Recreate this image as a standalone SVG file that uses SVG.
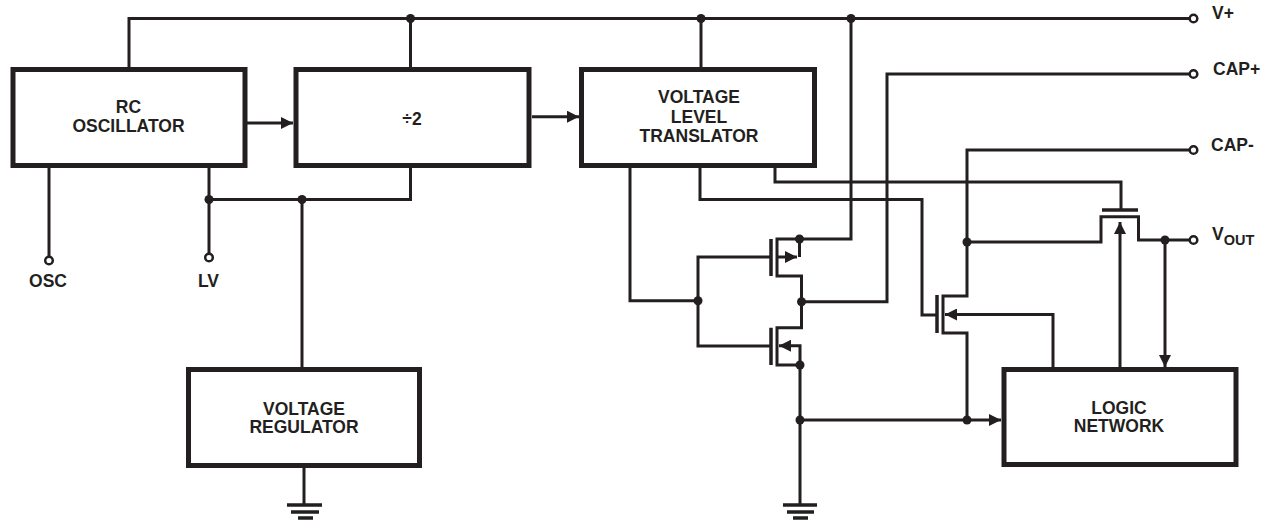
<svg xmlns="http://www.w3.org/2000/svg" width="1268" height="520" viewBox="0 0 1268 520">
<style>
.w{fill:none;stroke:#231f20;stroke-width:3;stroke-linejoin:miter}
.box{fill:#fff;stroke:#231f20;stroke-width:5}
.bar{fill:none;stroke:#231f20;stroke-width:3.5}
.dot{fill:#231f20}
.term{fill:#fff;stroke:#231f20;stroke-width:2.5}
.t{font-family:"Liberation Sans",Arial,Helvetica,sans-serif;font-weight:bold;font-size:17.5px;fill:#231f20}
.c{text-anchor:middle}
</style>
<defs>
<marker id="ah" markerUnits="userSpaceOnUse" markerWidth="12" markerHeight="12" refX="12" refY="6" orient="auto">
<path d="M0,0 L12,6 L0,12 z" fill="#231f20"/>
</marker>
</defs>

<g id="connectors">
<!-- V+ bus -->
<path class="w" d="M129,67 V18.5 H1190"/>
<path class="w" d="M410.5,18.5 V67"/>
<path class="w" d="M701,18.5 V67"/>
<!-- arrows between blocks -->
<path class="w" d="M247,123 H293" marker-end="url(#ah)"/>
<path class="w" d="M532,116.7 H579" marker-end="url(#ah)"/>
<!-- OSC and LV -->
<path class="w" d="M49,168 V257"/>
<path class="w" d="M209,168 V254"/>
<path class="w" d="M209,199.5 H410.5 V168"/>
<path class="w" d="M302,199.5 V367"/>
<!-- regulator ground -->
<path class="w" d="M304,468 V505"/>
<path class="bar" d="M287,505 H322 M291,512 H319 M298,518 H313"/>
<!-- PMOS / NMOS stack -->
<path class="w" d="M851,18.5 V239 H777 V276 H801.5 V327.7 H777 V365 H800 V505"/>
<path class="bar" d="M771,239 V276 M771,327.7 V365"/>
<path class="w" d="M799.5,239 V257"/>
<path class="w" d="M777,257 H797" marker-end="url(#ah)"/>
<path class="w" d="M800,365 V345.7 H779" marker-end="url(#ah)"/>
<path class="bar" d="M783,505 H817 M787,512 H814 M793,518 H808"/>
<!-- gate drive from VLT -->
<path class="w" d="M630,168 V300.7 H698"/>
<path class="w" d="M771,257 H698 V346 H771"/>
<!-- CAP+ -->
<path class="w" d="M1190,74 H887 V301.7 H801.5"/>
<!-- VLT middle output to switch gate -->
<path class="w" d="M700,168 V199.5 H922 V315 H937"/>
<path class="bar" d="M937,295 V333"/>
<!-- CAP- and switch channel -->
<path class="w" d="M1190,150 H967 V296 H943 V333 H967 V420"/>
<path class="w" d="M1053,367 V314.5 H945" marker-end="url(#ah)"/>
<!-- output switch -->
<path class="w" d="M775,168 V182 H1121 V210"/>
<path class="bar" d="M1102,210 H1138"/>
<path class="w" d="M967,242 H1101 V216.7 H1138.5 V240 H1190"/>
<path class="w" d="M1120,367 V222" marker-end="url(#ah)"/>
<path class="w" d="M1165,240 V367" marker-end="url(#ah)"/>
<!-- bottom to logic -->
<path class="w" d="M800,420 H1001" marker-end="url(#ah)"/>
<!-- junction dots -->
<circle class="dot" cx="410.5" cy="18.5" r="4.5"/>
<circle class="dot" cx="701" cy="18.5" r="4.5"/>
<circle class="dot" cx="851" cy="18.5" r="4.5"/>
<circle class="dot" cx="209" cy="199.5" r="4.5"/>
<circle class="dot" cx="302" cy="199.5" r="4.5"/>
<circle class="dot" cx="799.5" cy="239" r="4.5"/>
<circle class="dot" cx="698" cy="300.7" r="4.5"/>
<circle class="dot" cx="801.5" cy="301.7" r="4.5"/>
<circle class="dot" cx="800" cy="365" r="4.5"/>
<circle class="dot" cx="800" cy="420" r="4.5"/>
<circle class="dot" cx="967" cy="420" r="4.5"/>
<circle class="dot" cx="967" cy="242" r="4.5"/>
<circle class="dot" cx="1165" cy="240" r="4.5"/>
<!-- terminals -->
<circle class="term" cx="49" cy="260.5" r="3.8"/>
<circle class="term" cx="209" cy="257.5" r="3.8"/>
<circle class="term" cx="1193.5" cy="18.5" r="3.8"/>
<circle class="term" cx="1193.5" cy="74" r="3.8"/>
<circle class="term" cx="1193.5" cy="150" r="3.8"/>
<circle class="term" cx="1193.5" cy="240" r="3.8"/>
</g>

<g id="rc-oscillator">
<rect class="box" x="13" y="69.5" width="232" height="96"/>
<text class="t c" x="128.5" y="113">RC</text>
<text class="t c" x="128.5" y="131.5">OSCILLATOR</text>
</g>
<g id="divide-by-2">
<rect class="box" x="296" y="69.5" width="233" height="96"/>
<text class="t c" x="412" y="125">÷2</text>
</g>
<g id="voltage-level-translator">
<rect class="box" x="581.5" y="69.5" width="233" height="96"/>
<text class="t c" x="699" y="103">VOLTAGE</text>
<text class="t c" x="699" y="122.5">LEVEL</text>
<text class="t c" x="699" y="142">TRANSLATOR</text>
</g>
<g id="voltage-regulator">
<rect class="box" x="188.5" y="369.5" width="231" height="96"/>
<text class="t c" x="304" y="415">VOLTAGE</text>
<text class="t c" x="304" y="433">REGULATOR</text>
</g>
<g id="logic-network">
<rect class="box" x="1004" y="369.5" width="232" height="95"/>
<text class="t c" x="1119" y="414">LOGIC</text>
<text class="t c" x="1119" y="432">NETWORK</text>
</g>
<g id="labels">
<text class="t c" x="48" y="287">OSC</text>
<text class="t c" x="208.5" y="287">LV</text>
<text class="t" x="1212" y="19">V+</text>
<text class="t" x="1213" y="75">CAP+</text>
<text class="t" x="1211" y="151">CAP-</text>
<text class="t" x="1212" y="240">V<tspan font-size="14.5" dy="5">OUT</tspan></text>
</g>
</svg>
